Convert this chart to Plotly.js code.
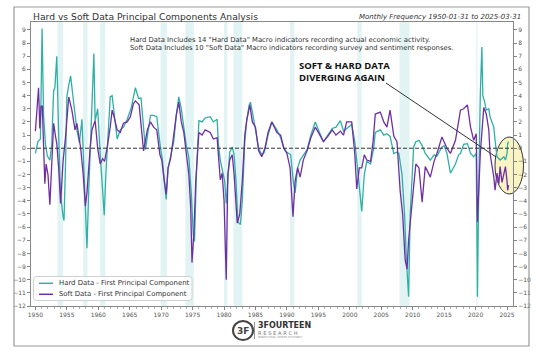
<!DOCTYPE html>
<html><head><meta charset="utf-8">
<script src="https://cdn.plot.ly/plotly-3.0.1.min.js"></script>
<style>html,body{margin:0;padding:0;background:#fff}#chart{width:540px;height:351px}</style>
</head><body><div id="chart"></div>
<script>
// ---- Data ----
const hardYears = [1950.0,1950.4,1950.8,1951.06,1951.3,1951.6,1951.9,1952.3,1952.6,1952.9,1953.1,1953.4,1953.7,1954.0,1954.4,1954.55,1954.8,1955.0,1955.3,1955.6,1956.1,1956.6,1957.0,1957.4,1957.6,1957.9,1958.2,1958.5,1958.7,1959.0,1959.3,1959.5,1959.9,1960.3,1960.6,1960.95,1961.2,1961.4,1961.9,1962.2,1962.7,1963.0,1963.5,1964.0,1964.6,1965.2,1965.9,1966.4,1966.8,1967.2,1967.5,1967.9,1968.3,1968.8,1969.3,1969.9,1970.2,1970.5,1970.8,1971.1,1971.5,1972.0,1972.4,1972.8,1973.2,1973.6,1974.0,1974.4,1974.8,1975.1,1975.3,1975.6,1976.0,1976.5,1977.0,1977.8,1978.3,1978.9,1979.1,1979.4,1979.7,1980.1,1980.35,1980.6,1980.9,1981.3,1981.6,1981.9,1982.2,1982.6,1982.9,1983.3,1983.6,1984.0,1984.2,1984.6,1985.0,1985.5,1986.0,1986.4,1987.0,1987.6,1988.4,1989.0,1989.5,1990.0,1990.6,1991.0,1991.3,1991.7,1992.1,1992.6,1993.2,1993.8,1994.5,1995.0,1995.8,1996.5,1997.2,1997.8,1998.5,1999.0,1999.6,2000.3,2000.8,2001.1,2001.5,2001.9,2002.3,2002.7,2003.3,2003.8,2004.05,2004.85,2005.4,2005.9,2006.4,2007.0,2007.5,2007.8,2008.3,2008.7,2009.0,2009.35,2009.6,2009.9,2010.15,2010.5,2011.0,2011.5,2012.0,2012.8,2013.4,2013.85,2014.65,2015.0,2015.45,2016.0,2016.4,2016.8,2017.3,2017.6,2018.1,2018.7,2019.2,2019.7,2020.1,2020.3,2020.5,2020.75,2021.0,2021.15,2021.4,2021.7,2022.1,2022.3,2022.6,2022.9,2023.1,2023.4,2023.9,2024.2,2024.5,2024.75,2025.0,2025.1,2025.25];
const hardValues = [-0.4,0.5,0.7,9.1,2.5,0.3,-0.6,-0.9,0.3,4.4,4.6,7.0,1.0,-3.5,-5.2,-5.5,-1.0,3.9,4.8,5.5,3.4,1.4,0.4,2.2,-0.2,-4.5,-7.6,-3.0,0.0,2.9,7.2,2.1,3.0,-0.4,-2.5,-5.1,-2.0,0.0,3.9,4.0,1.6,0.7,1.4,1.6,2.2,3.0,4.6,3.8,3.8,1.2,-0.1,1.2,2.5,2.5,2.4,0.0,-0.9,-2.5,-3.9,-1.5,-0.6,0.5,2.5,3.9,3.0,1.6,0.2,-0.7,-3.5,-6.5,-7.1,-2.0,2.1,2.0,2.3,2.4,2.0,2.2,0.35,-0.9,-1.7,-2.5,-4.2,-2.5,-0.3,0.1,-0.5,-2.5,-5.6,-5.8,-4.0,0.5,2.1,3.3,3.5,2.5,1.5,0.0,-0.5,-0.3,1.0,2.0,1.4,0.8,0.0,-0.3,-0.5,-2.5,-3.4,-1.5,-0.9,-0.5,-0.1,1.0,2.0,1.4,0.5,1.0,1.5,1.6,2.1,1.3,1.5,1.8,0.5,-0.9,-3.0,-4.8,-2.0,-1.0,-1.2,0.0,1.2,1.4,1.0,1.1,0.9,-0.4,-0.3,-0.4,-2.0,-5.0,-8.5,-11.3,-5.0,-1.5,0.1,0.5,0.6,0.2,-0.4,-0.9,-0.5,-0.6,0.1,0.2,-0.4,-1.9,-1.6,-1.2,-0.5,-0.4,0.3,0.35,-0.4,-0.65,-0.4,-11.3,-3.0,4.1,7.7,4.0,3.6,2.9,3.0,2.4,2.0,1.6,0.6,-0.65,-0.9,-0.8,-0.65,-0.9,-0.4,0.35,0.5];

const softYears = [1950.0,1950.3,1950.5,1950.7,1950.9,1951.1,1951.3,1951.5,1951.7,1952.0,1952.3,1952.65,1952.9,1953.2,1953.4,1953.7,1954.0,1954.4,1954.8,1955.3,1955.8,1956.3,1956.6,1957.2,1957.6,1957.95,1958.2,1958.7,1959.0,1959.5,1959.9,1960.3,1960.7,1961.0,1961.4,1961.9,1962.2,1962.5,1963.0,1963.5,1964.0,1964.6,1965.1,1965.6,1965.9,1966.5,1966.9,1967.2,1967.8,1968.3,1968.8,1969.3,1969.8,1970.1,1970.5,1970.8,1971.1,1971.5,1972.0,1972.4,1972.8,1973.2,1973.6,1974.0,1974.4,1974.7,1974.9,1975.2,1975.5,1976.0,1976.5,1977.0,1977.8,1978.3,1978.9,1979.4,1979.7,1980.0,1980.35,1980.6,1980.9,1981.3,1981.6,1982.1,1982.5,1982.9,1983.3,1983.6,1984.1,1984.5,1985.0,1985.5,1986.0,1986.5,1987.0,1987.6,1988.4,1989.0,1989.5,1990.0,1990.5,1990.96,1991.3,1991.7,1992.1,1992.6,1993.2,1993.8,1994.5,1995.0,1995.8,1996.5,1997.2,1997.8,1998.5,1999.0,1999.5,2000.3,2000.8,2001.1,2001.5,2001.9,2002.3,2002.7,2003.3,2003.7,2004.05,2004.85,2005.4,2005.9,2006.4,2007.0,2007.5,2008.0,2008.4,2008.8,2009.1,2009.35,2009.6,2010.15,2010.5,2011.0,2011.5,2012.0,2012.8,2013.4,2013.85,2014.65,2015.45,2016.0,2016.8,2017.3,2017.6,2018.1,2018.7,2019.2,2019.7,2020.1,2020.3,2020.75,2021.0,2021.3,2021.7,2022.1,2022.3,2022.9,2023.1,2023.4,2023.7,2023.9,2024.2,2024.5,2024.75,2025.0,2025.1,2025.25];
const softValues = [1.3,3.0,4.6,1.5,3.2,3.2,0.0,-2.7,-1.2,-2.0,-4.3,-1.0,1.9,0.9,0.35,-1.5,-4.2,-1.0,0.9,3.9,2.9,1.4,1.9,0.0,-2.0,-4.4,-3.4,0.0,1.4,2.1,0.0,-1.2,-0.8,-1.0,0.0,1.6,2.9,2.4,1.4,1.2,1.9,2.0,2.4,3.4,3.6,3.3,1.5,-0.2,1.4,2.0,1.6,1.4,-0.5,-0.9,-2.5,-3.5,-1.5,-0.8,1.0,2.5,3.5,2.0,1.2,-0.6,-2.0,-4.5,-8.7,-6.5,-2.5,1.2,1.0,1.4,1.2,0.7,0.8,-2.4,-1.9,-4.0,-10.0,-2.0,-0.9,-0.5,-2.0,-5.7,-5.0,-2.5,1.0,2.1,3.3,2.0,1.6,-0.2,-0.65,0.0,1.2,2.0,1.2,1.0,0.0,-0.4,-1.5,-5.2,-2.5,-1.5,-2.2,-0.9,-0.2,0.8,1.6,1.2,0.5,0.9,1.4,1.0,1.3,1.0,2.0,2.0,-0.5,-3.1,-1.5,-1.5,-0.5,-0.9,-1.0,0.5,2.6,2.75,2.0,1.6,2.9,0.9,0.5,-3.2,-5.0,-8.5,-9.2,-7.0,-5.5,-2.9,-1.2,-1.5,-4.1,-1.4,-2.2,-1.0,-0.4,0.86,0.0,-0.4,0.6,2.0,2.9,3.0,3.3,1.6,0.6,1.1,-5.6,-0.4,1.4,3.1,2.6,1.4,-0.4,-2.2,-3.2,-1.9,-2.7,-1.4,-2.6,-1.9,-1.4,-2.5,-3.2,-2.8];

const recessionStart = [1953.5,1957.6,1960.3,1969.9,1973.85,1980.0,1981.5,1990.5,2001.2,2007.9,2020.1];
const recessionEnd   = [1954.4,1958.3,1961.1,1970.9,1975.2,1980.5,1982.9,1991.2,2001.9,2009.5,2020.3];

const seriesNames = ['Hard Data - First Principal Component','Soft Data - First Principal Component'];
const titleText = 'Hard vs Soft Data Principal Components Analysis';
const subtitleText = 'Monthly Frequency 1950-01-31 to 2025-03-31';
const noteLines = ['Hard Data Includes 14 "Hard Data" Macro indicators recording actual economic activity.',
                   'Soft Data Includes 10 "Soft Data" Macro indicators recording survey and sentiment responses.'];
const calloutLines = ['SOFT &amp; HARD DATA','DIVERGING AGAIN'];

// ---- Layout geometry ----
const W = 540, H = 351, mL = 31, mR = 27, mT = 22, mB = 45;
const pw = W - mL - mR, ph = H - mT - mB;
const px = x => (x - mL) / pw;
const py = y => (H - mB - y) / ph;

const HARD = '#2fb0a6', SOFT = '#6f2fa3';
const tickFont = {family: 'DejaVu Sans', size: 6, color: '#555'};

const traces = [
  {x: hardYears, y: hardValues, type: 'scatter', mode: 'lines', name: seriesNames[0],
   line: {color: HARD, width: 1.3}, xaxis: 'x', yaxis: 'y'},
  {x: softYears, y: softValues, type: 'scatter', mode: 'lines', name: seriesNames[1],
   line: {color: SOFT, width: 1.3}, xaxis: 'x', yaxis: 'y2'}
];

const shapes = [];
recessionStart.forEach((s, i) => {
  shapes.push({type: 'rect', xref: 'x', yref: 'paper', x0: s, x1: recessionEnd[i], y0: 0, y1: 1,
    fillcolor: 'rgba(170,222,222,0.35)', line: {width: 0}, layer: 'below'});
});
// zero line
shapes.push({type: 'line', xref: 'paper', yref: 'y', x0: 0, x1: 1, y0: 0, y1: 0,
  line: {color: '#333', width: 1, dash: '4px,2px'}, layer: 'above'});
// highlight ellipse
shapes.push({type: 'circle', xref: 'paper', yref: 'paper', x0: px(495), x1: px(523.5), y0: py(194), y1: py(137),
  fillcolor: '#f9f4c4', line: {color: '#333', width: 1}, layer: 'below'});
// callout pointer
shapes.push({type: 'line', xref: 'paper', yref: 'paper', x0: px(386), y0: py(83), x1: px(496), y1: py(157),
  line: {color: '#333', width: 1}});
// outer frame
shapes.push({type: 'rect', xref: 'paper', yref: 'paper', x0: px(14), x1: px(529), y0: py(346), y1: py(7),
  line: {color: '#999', width: 1.2}, fillcolor: 'rgba(0,0,0,0)'});
// logo circle + divider
shapes.push({type: 'circle', xref: 'paper', yref: 'paper', x0: px(233), x1: px(253), y0: py(340), y1: py(321),
  line: {color: '#444', width: 2}, fillcolor: 'rgba(0,0,0,0)'});
shapes.push({type: 'line', xref: 'paper', yref: 'paper', x0: px(254.5), x1: px(254.5), y0: py(339), y1: py(322),
  line: {color: '#777', width: 0.8}});

// custom legend (rounded box + line samples)
function roundedRect(x0, y0, x1, y1, r) {
  const X = v => px(v).toFixed(5), Y = v => py(v).toFixed(5);
  return 'M' + X(x0 + r) + ',' + Y(y0) + ' L' + X(x1 - r) + ',' + Y(y0) +
    ' Q' + X(x1) + ',' + Y(y0) + ' ' + X(x1) + ',' + Y(y0 + r) +
    ' L' + X(x1) + ',' + Y(y1 - r) + ' Q' + X(x1) + ',' + Y(y1) + ' ' + X(x1 - r) + ',' + Y(y1) +
    ' L' + X(x0 + r) + ',' + Y(y1) + ' Q' + X(x0) + ',' + Y(y1) + ' ' + X(x0) + ',' + Y(y1 - r) +
    ' L' + X(x0) + ',' + Y(y0 + r) + ' Q' + X(x0) + ',' + Y(y0) + ' ' + X(x0 + r) + ',' + Y(y0) + ' Z';
}
shapes.push({type: 'path', xref: 'paper', yref: 'paper', path: roundedRect(33.5, 276.5, 192, 300.5, 3),
  fillcolor: 'rgba(255,255,255,0.85)', line: {color: '#d0d0d0', width: 1}});
const legendRows = [283.3, 294.3];
const legendColors = [HARD, SOFT];
legendRows.forEach((ry, i) => {
  shapes.push({type: 'line', xref: 'paper', yref: 'paper', x0: px(39), x1: px(53), y0: py(ry), y1: py(ry),
    line: {color: legendColors[i], width: 1.5}});
});

const ann = (text, x, y, opts) => Object.assign({text, xref: 'paper', yref: 'paper', x: px(x), y: py(y),
  showarrow: false, xanchor: 'left', yanchor: 'middle', align: 'left'}, opts);

const annotations = [
  ann(titleText, 30.5, 16, {font: {family: 'DejaVu Sans', size: 9.2, color: '#333'}}),
  ann('<i>' + subtitleText + '</i>', 523, 16.5, {xanchor: 'right', align: 'right', font: {family: 'DejaVu Sans', size: 7, color: '#333'}}),
  ann(noteLines[0], 128, 40, {font: {family: 'DejaVu Sans', size: 6.85, color: '#333'}}),
  ann(noteLines[1], 128, 47.5, {font: {family: 'DejaVu Sans', size: 6.85, color: '#333'}}),
  ann('<b>' + calloutLines[0] + '</b>', 296.5, 65.5, {font: {family: 'Open Sans', size: 9.5, color: '#111'}}),
  ann('<b>' + calloutLines[1] + '</b>', 296.5, 78, {font: {family: 'Open Sans', size: 9.5, color: '#111'}}),
  ann(seriesNames[0], 56.5, legendRows[0], {font: {family: 'DejaVu Sans', size: 6.9, color: '#333'}}),
  ann(seriesNames[1], 56.5, legendRows[1], {font: {family: 'DejaVu Sans', size: 6.9, color: '#333'}}),
  ann('<b>3F</b>', 243, 330.5, {xanchor: 'center', font: {family: 'DejaVu Sans', size: 9, color: '#444'}}),
  ann('<b>3FOURTEEN</b>', 256, 325.5, {font: {family: 'DejaVu Sans', size: 8, color: '#333'}}),
  ann('R E S E A R C H', 256, 332.5, {font: {family: 'DejaVu Sans', size: 5.2, color: '#777'}}),
  ann('MARKET RISK. EXPERT EFFICIENCY', 256, 337.5, {font: {family: 'DejaVu Sans', size: 2.6, color: '#888'}})
];

const layout = {
  width: W, height: H,
  margin: {l: mL, r: mR, t: mT, b: mB, pad: 0},
  paper_bgcolor: '#fff', plot_bgcolor: '#fff',
  showlegend: false,
  xaxis: {range: [1949.3, 2025.95], tickmode: 'linear', tick0: 1950, dtick: 5, tickformat: 'd',
    ticks: 'outside', ticklen: 3, tickcolor: '#666', tickwidth: 0.8, tickfont: tickFont,
    showline: true, linecolor: '#888', linewidth: 1, mirror: true, showgrid: false, zeroline: false,
    minor: {tick0: 1950, dtick: 1, ticks: 'outside', ticklen: 2, tickcolor: '#777', tickwidth: 0.6, showgrid: false}},
  yaxis: {range: [-12, 9.6], tickmode: 'linear', tick0: 0, dtick: 1,
    ticks: 'outside', ticklen: 3, tickcolor: '#666', tickwidth: 0.8, tickfont: tickFont,
    showline: true, linecolor: '#888', linewidth: 1, mirror: true, showgrid: false, zeroline: false},
  yaxis2: {overlaying: 'y', side: 'right', range: [-12, 9.6], tickmode: 'linear', tick0: 0, dtick: 1,
    ticks: 'outside', ticklen: 3, tickcolor: '#666', tickwidth: 0.8, tickfont: tickFont,
    showline: false, showgrid: false, zeroline: false},
  shapes, annotations
};

Plotly.newPlot('chart', traces, layout, {displayModeBar: false, staticPlot: true});
</script>
</body></html>
